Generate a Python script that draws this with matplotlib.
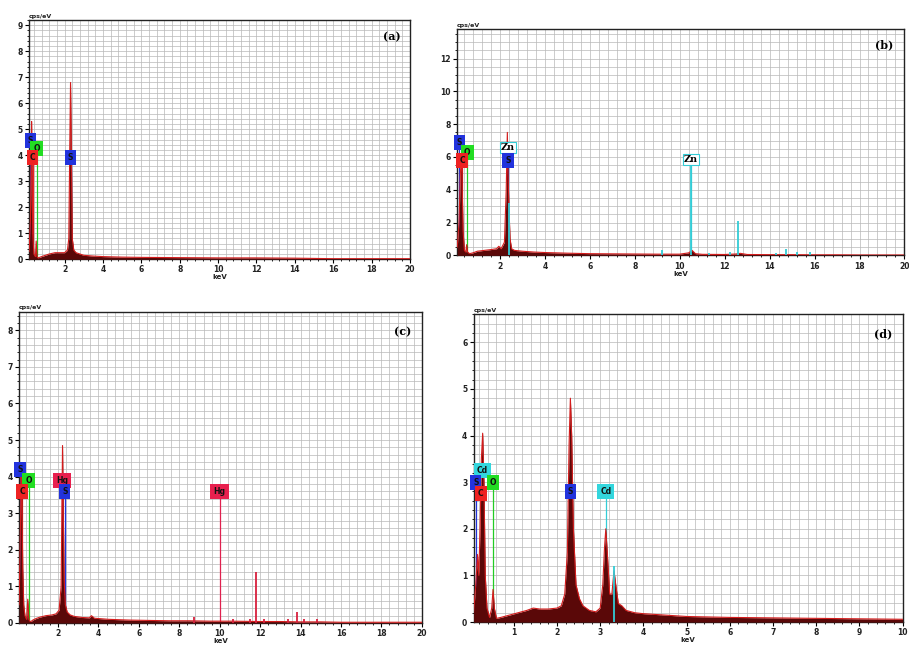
import matplotlib
matplotlib.use("Agg")
import matplotlib.pyplot as plt
from matplotlib.ticker import MultipleLocator

# ---- spectrum (a) ----
a_kev = [0.15, 0.22, 0.26, 0.28, 0.30, 0.34, 0.40, 0.48, 0.52, 0.56, 0.62, 0.8, 1.0, 1.2, 1.5,
         1.8, 2.0, 2.15, 2.22, 2.27, 2.31, 2.35, 2.40, 2.48, 2.6, 3.0, 3.5, 4.0, 5, 6, 8, 10,
         12, 14, 15, 16, 18, 20]
a_cps = [0.3, 1.5, 4.0, 5.3, 4.0, 1.0, 0.2, 0.1, 0.7, 0.1, 0.05, 0.1, 0.15, 0.2, 0.25,
         0.25, 0.25, 0.35, 0.8, 4.3, 6.8, 4.4, 0.8, 0.35, 0.25, 0.15, 0.12, 0.1, 0.08, 0.07, 0.06, 0.05,
         0.05, 0.04, 0.03, 0.02, 0.02, 0.02]
a_tags = ["S", "O", "C", "S"]
a_tag_kev = [0.22, 0.55, 0.33, 2.31]
a_tag_cps = [4.58, 4.27, 3.92, 3.9]

# ---- spectrum (b) ----
b_kev = [0.10, 0.18, 0.24, 0.28, 0.31, 0.36, 0.42, 0.48, 0.52, 0.56, 0.65, 0.8, 1.0, 1.3, 1.6,
         1.85, 1.95, 2.05, 2.2, 2.28, 2.33, 2.36, 2.40, 2.45, 2.52, 2.65, 3.0, 3.5, 4, 5, 6, 7, 8,
         9, 10, 10.4, 10.55, 10.7, 11, 12, 12.5, 12.7, 13, 14, 15, 16, 17, 18, 19, 20]
b_cps = [0.5, 2.0, 5.0, 5.8, 5.0, 1.5, 0.3, 0.2, 0.65, 0.2, 0.1, 0.15, 0.25, 0.3, 0.35,
         0.4, 0.55, 0.4, 0.8, 4.0, 7.5, 5.0, 3.0, 1.0, 0.4, 0.3, 0.25, 0.2, 0.17, 0.13, 0.1, 0.09, 0.08,
         0.07, 0.07, 0.15, 0.3, 0.1, 0.06, 0.05, 0.08, 0.12, 0.05, 0.04, 0.04, 0.03, 0.03, 0.02, 0.02, 0.02]
b_zn_kev = [2.42, 9.2, 10.5, 11.3, 12.25, 12.6, 14.3, 14.75, 15.2, 15.8]
b_zn_cps = [3.2, 0.3, 5.5, 0.15, 0.2, 2.1, 0.15, 0.4, 0.2, 0.2]
b_tags = ["S", "O", "C", "Zn", "S", "Zn"]
b_tag_kev = [0.2, 0.55, 0.32, 2.35, 2.35, 10.5]
b_tag_cps = [6.9, 6.3, 5.8, 6.6, 5.8, 5.85]

# ---- spectrum (c) ----
c_kev = [0.07, 0.12, 0.17, 0.21, 0.25, 0.30, 0.36, 0.44, 0.50, 0.55, 0.60, 0.66, 0.75, 0.9, 1.1,
         1.4, 1.7, 1.9, 2.05, 2.15, 2.22, 2.26, 2.30, 2.36, 2.45, 2.6, 2.8, 3.2, 3.55, 3.65, 3.8,
         4.5, 5.5, 6.5, 7.5, 8.5, 9.5, 10.5, 12, 13, 14, 15, 16, 17, 18, 19, 20]
c_cps = [0.5, 2.0, 4.0, 3.5, 1.5, 0.5, 0.2, 0.1, 0.65, 0.1, 0.05, 0.04, 0.08, 0.12, 0.16,
         0.2, 0.22, 0.25, 0.35, 1.0, 4.85, 3.0, 1.2, 0.5, 0.3, 0.22, 0.18, 0.15, 0.14, 0.2, 0.13,
         0.1, 0.08, 0.07, 0.06, 0.06, 0.05, 0.05, 0.04, 0.04, 0.03, 0.03, 0.02, 0.02, 0.02, 0.02, 0.02]
c_hg_kev = [8.75, 10.65, 11.5, 11.82, 12.2, 13.4, 13.8, 14.15, 14.8]
c_hg_cps = [0.15, 0.1, 0.1, 1.4, 0.1, 0.1, 0.3, 0.1, 0.1]
c_tags = ["S", "O", "C", "Hg", "S", "Hg"]
c_tag_kev = [0.12, 0.55, 0.22, 2.2, 2.33, 9.99]
c_tag_cps = [4.2, 3.9, 3.6, 3.9, 3.6, 3.6]

# ---- spectrum (d) ----
d_kev = [0.07, 0.12, 0.16, 0.19, 0.22, 0.25, 0.28, 0.31, 0.34, 0.38, 0.44, 0.49, 0.52, 0.55, 0.60,
         0.7, 0.9, 1.1, 1.3, 1.45, 1.6, 1.8, 2.0, 2.1, 2.18, 2.24, 2.28, 2.31, 2.34, 2.38, 2.44,
         2.52, 2.6, 2.75, 2.9, 3.0, 3.06, 3.1, 3.13, 3.17, 3.22, 3.27, 3.32, 3.36, 3.42, 3.5, 3.6,
         3.8, 4.0, 4.5, 5, 6, 7, 8, 9, 10]
d_cps = [0.2, 0.8, 1.45, 1.0, 2.0, 3.5, 4.05, 3.0, 1.0, 0.3, 0.1, 0.3, 0.7, 0.3, 0.08,
         0.1, 0.15, 0.2, 0.25, 0.3, 0.28, 0.28, 0.3, 0.35, 0.6, 1.5, 3.8, 4.8, 4.0, 2.0, 0.8,
         0.5, 0.35, 0.25, 0.22, 0.3, 0.8, 1.6, 2.0, 1.4, 0.6, 0.6, 1.1, 0.8, 0.4, 0.35, 0.25,
         0.2, 0.18, 0.15, 0.12, 0.1, 0.09, 0.08, 0.07, 0.06]
d_cd_kev = [3.32]
d_cd_cps = [1.2]
d_tags = ["Cd", "S", "O", "C", "S", "Cd"]
d_tag_kev = [0.28, 0.12, 0.52, 0.24, 2.31, 3.13]
d_tag_cps = [3.25, 3.0, 3.0, 2.75, 2.8, 2.8]

tag_color = {"S": "#2233dd", "O": "#22dd22", "C": "#ee2222", "Hg": "#e8204e", "Cd": "#33d6dd", "Zn": "white"}
line_color = {"S": "#2233dd", "O": "#22cc22", "C": "#ee2222", "Hg": "#e0204e", "Cd": "#33ccd6", "Zn": "#33ccd6"}


def panel(rect, kev, cps, xlim, ylim, xmaj, xmin, ymaj, ymin, tags, tag_kev, tag_cps, letter,
          extra=None):
    ax = fig.add_axes(rect)
    ax.set_xlim(*xlim)
    ax.set_ylim(*ylim)
    ax.xaxis.set_major_locator(MultipleLocator(xmaj))
    ax.xaxis.set_minor_locator(MultipleLocator(xmin))
    ax.yaxis.set_major_locator(MultipleLocator(ymaj))
    ax.yaxis.set_minor_locator(MultipleLocator(ymin))
    ax.grid(True, which="both", color="#b8b8b8", lw=0.5)
    ax.set_axisbelow(True)
    ax.tick_params(which="major", length=3, width=0.8, labelsize=5.5, pad=1.5, labelcolor="#222")
    ax.tick_params(which="minor", length=1.5, width=0.6)
    for lab in ax.get_xticklabels() + ax.get_yticklabels():
        lab.set_fontweight("bold")
    for s in ax.spines.values():
        s.set_linewidth(1.0)
        s.set_color("#222")

    # element marker lines sit behind the spectrum
    for t, x, y in zip(tags, tag_kev, tag_cps):
        ax.vlines(x, 0, y, color=line_color[t], lw=0.9, zorder=2.5)

    ax.fill_between(kev, cps, 0, color="#5a0808", lw=0, zorder=3)
    ax.plot(kev, cps, color="#d41c1c", lw=0.8, zorder=4)
    if extra is not None:
        ex_kev, ex_cps, ex_col = extra
        ax.vlines(ex_kev, 0, ex_cps, color=ex_col, lw=1.3, zorder=5)

    for t, x, y in zip(tags, tag_kev, tag_cps):
        if t == "Zn":
            ax.text(x, y, t, ha="center", va="center", fontsize=7, fontweight="bold",
                    family="DejaVu Serif", zorder=7,
                    bbox=dict(boxstyle="square,pad=0.1", fc="white", ec="#33ccd6", lw=0.8))
        else:
            ax.text(x, y, t, ha="center", va="center", fontsize=5.5, fontweight="bold",
                    color="#111", zorder=7,
                    bbox=dict(boxstyle="square,pad=0.4", fc=tag_color[t], ec="none"))

    ax.text(0.975, 0.955, letter, transform=ax.transAxes, ha="right", va="top",
            fontsize=8, fontweight="bold", family="DejaVu Serif", zorder=8)
    ax.text(0.0, 1.005, "cps/eV", transform=ax.transAxes, ha="left", va="bottom",
            fontsize=4.5, fontweight="bold", color="#222")
    ax.set_xlabel("keV", fontsize=5, fontweight="bold", labelpad=0, color="#222")
    return ax


fig = plt.figure(figsize=(9.09, 6.48), dpi=100)

panel([0.032, 0.600, 0.419, 0.369], a_kev, a_cps, (0.15, 20), (0, 9.2), 2, 0.4, 1, 0.2,
      a_tags, a_tag_kev, a_tag_cps, "(a)")
panel([0.503, 0.606, 0.492, 0.349], b_kev, b_cps, (0.1, 20), (0, 13.8), 2, 0.4, 2, 0.5,
      b_tags, b_tag_kev, b_tag_cps, "(b)", extra=(b_zn_kev, b_zn_cps, "#33ccd6"))
panel([0.021, 0.0386, 0.443, 0.480], c_kev, c_cps, (0.07, 20), (0, 8.5), 2, 0.4, 1, 0.2,
      c_tags, c_tag_kev, c_tag_cps, "(c)", extra=(c_hg_kev, c_hg_cps, "#d8203e"))
panel([0.521, 0.040, 0.472, 0.475], d_kev, d_cps, (0.07, 10), (0, 6.6), 1, 0.2, 1, 0.2,
      d_tags, d_tag_kev, d_tag_cps, "(d)", extra=(d_cd_kev, d_cd_cps, "#33ccd6"))

fig.savefig("out.png", dpi=100)
